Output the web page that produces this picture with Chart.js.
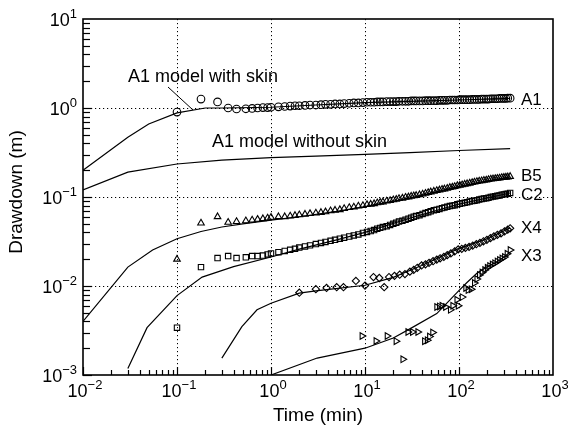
<!DOCTYPE html>
<html>
<head>
<meta charset="utf-8">
<script src="https://cdn.jsdelivr.net/npm/chart.js@4.4.1/dist/chart.umd.min.js"></script>
<style>
  html, body { margin: 0; padding: 0; background: #fff; }
  #wrap { width: 568px; height: 432px; position: relative; }
</style>
</head>
<body>
<div id="wrap"><canvas id="drawdownChart"></canvas></div>
<script>
const obsTimes = [0.1, 0.18, 0.27, 0.35, 0.43, 0.54, 0.63, 0.72, 0.82, 0.92, 1.0, 1.2, 1.4, 1.6, 1.8, 2.0, 2.3, 2.6, 3.0, 3.4, 3.8, 4.3, 4.8, 5.4, 6.0, 6.8, 7.6, 8.5, 9.5,
  10.5, 11.5, 12.5, 13.5, 14.5, 15.5, 17, 18.5, 20, 21.5, 23, 25, 27, 29, 31, 33, 35, 38, 41, 44, 47, 50, 54, 58, 62, 66, 70, 75, 80, 85, 90, 96,
  102, 108, 115, 122, 130, 138, 146, 155, 164, 174, 184, 195, 206, 218, 230, 243, 256, 270, 285, 300, 315, 330, 350];
const a1Obs = [0.9, 1.26, 1.17, 1.0, 0.975, 0.98, 0.99, 1.0, 1.01, 1.01, 1.02, 1.03, 1.04, 1.05, 1.06, 1.06, 1.07, 1.08, 1.08, 1.09, 1.10, 1.10, 1.11, 1.11, 1.12, 1.13, 1.14, 1.14, 1.15,
  1.16, 1.16, 1.16, 1.17, 1.17, 1.17, 1.18, 1.18, 1.18, 1.18, 1.19, 1.19, 1.19, 1.19, 1.20, 1.20, 1.20, 1.20, 1.20, 1.21, 1.21, 1.21, 1.21, 1.21, 1.22, 1.22, 1.22, 1.22, 1.23, 1.23, 1.23, 1.23,
  1.24, 1.24, 1.24, 1.24, 1.24, 1.25, 1.25, 1.25, 1.25, 1.26, 1.26, 1.26, 1.26, 1.27, 1.27, 1.27, 1.27, 1.28, 1.28, 1.28, 1.28, 1.29, 1.29];
const b5Obs = [0.020, 0.051, 0.060, 0.052, 0.053, 0.054, 0.055, 0.056, 0.057, 0.058, 0.059, 0.060, 0.060, 0.061, 0.062, 0.063, 0.064, 0.065, 0.066, 0.067, 0.068, 0.070, 0.071, 0.072, 0.074, 0.076, 0.077, 0.079, 0.080,
  0.082, 0.083, 0.084, 0.086, 0.087, 0.088, 0.090, 0.091, 0.093, 0.094, 0.096, 0.097, 0.099, 0.100, 0.102, 0.103, 0.104, 0.106, 0.108, 0.110, 0.112, 0.114, 0.116, 0.118, 0.120, 0.122, 0.123, 0.125, 0.128, 0.129, 0.131, 0.134,
  0.135, 0.137, 0.139, 0.141, 0.143, 0.145, 0.147, 0.149, 0.151, 0.152, 0.154, 0.155, 0.157, 0.159, 0.160, 0.161, 0.162, 0.163, 0.165, 0.166, 0.167, 0.168, 0.170];
const c2Obs = [0.0034, 0.0163, 0.0206, 0.0217, 0.0206, 0.0210, 0.0217, 0.0217, 0.0220, 0.0226, 0.0232, 0.0240, 0.0248, 0.0255, 0.0262, 0.0270, 0.0278, 0.0286, 0.0296, 0.0305, 0.0313, 0.0322, 0.0330, 0.0340, 0.0349, 0.036, 0.037, 0.038, 0.0395,
  0.0405, 0.0415, 0.0425, 0.044, 0.045, 0.046, 0.047, 0.0485, 0.050, 0.0515, 0.053, 0.054, 0.0555, 0.057, 0.0585, 0.060, 0.061, 0.0625, 0.0645, 0.066, 0.0675, 0.069, 0.071, 0.072, 0.0735, 0.075, 0.076, 0.0775, 0.079, 0.080, 0.081, 0.083,
  0.084, 0.085, 0.086, 0.0875, 0.089, 0.090, 0.091, 0.092, 0.094, 0.095, 0.096, 0.097, 0.098, 0.100, 0.101, 0.102, 0.103, 0.104, 0.106, 0.107, 0.108, 0.109, 0.111];

const x4Times = [2.0, 3.0, 3.9, 5.0, 5.9, 8.0, 10, 12.3, 14.2, 16, 18, 20.6, 23.4, 26.6, 30, 33, 36, 40, 44, 48, 53, 58, 63, 69, 75, 82, 90, 98, 107, 117, 128, 140, 153, 167, 182, 198, 216, 235, 256, 280, 305, 330, 350];
const x4Obs = [0.0084, 0.0092, 0.0095, 0.0097, 0.0097, 0.0114, 0.0101, 0.0126, 0.0123, 0.0097, 0.0126, 0.0130, 0.0134, 0.0136, 0.0145, 0.0152, 0.0160, 0.0170, 0.0175, 0.0182, 0.0190, 0.0198, 0.0205, 0.0213, 0.0222, 0.0232, 0.0245, 0.0258, 0.0262, 0.0268, 0.0275, 0.0285, 0.0295, 0.0305, 0.0318, 0.033, 0.0345, 0.036, 0.0375, 0.039, 0.041, 0.043, 0.0445];

const x3Times = [9.3, 13.1, 17.2, 21.4, 25.3, 28.6, 32, 36.5, 43, 46, 48.6, 52.5, 58, 62, 66, 72, 81, 86, 95, 98, 108, 118, 125, 135, 146, 155, 165, 176, 188, 200, 212, 226, 240, 255, 270, 287, 305, 325, 350];
const x3Obs = [0.00274, 0.00241, 0.00274, 0.00240, 0.00150, 0.00304, 0.00304, 0.00304, 0.00240, 0.00245, 0.00270, 0.00300, 0.0058, 0.0059, 0.0060, 0.0058, 0.0054, 0.0060, 0.0070, 0.0060, 0.0075, 0.0095, 0.0090, 0.0092, 0.0108, 0.0120, 0.0133, 0.0142, 0.0151, 0.0160, 0.0168, 0.0174, 0.0180, 0.0188, 0.0196, 0.0204, 0.0212, 0.0230, 0.0254];

// Model curves
const a1SkinTimes = [0.01, 0.03, 0.05, 0.1, 0.2, 0.3, 1, 3, 10, 30, 100, 350];
const a1SkinModel = [0.20, 0.47, 0.66, 0.88, 1.0, 1.0, 1.02, 1.08, 1.15, 1.19, 1.23, 1.28];
const a1NoSkinTimes = [0.01, 0.03, 0.1, 0.3, 1, 3, 10, 30, 100, 350];
const a1NoSkinModel = [0.12, 0.19, 0.235, 0.26, 0.277, 0.288, 0.302, 0.315, 0.333, 0.35];
const b5ModelTimes = [0.01, 0.03, 0.055, 0.1, 0.18, 0.3, 0.5, 1, 2, 5, 10, 30, 100, 350];
const b5Model = [0.0040, 0.0163, 0.0254, 0.034, 0.041, 0.046, 0.050, 0.055, 0.060, 0.069, 0.078, 0.097, 0.132, 0.168];
const c2ModelTimes = [0.03, 0.048, 0.1, 0.185, 0.4, 1, 2, 5, 10, 30, 100, 350];
const c2Model = [0.00118, 0.0034, 0.0078, 0.0126, 0.0165, 0.0212, 0.026, 0.033, 0.040, 0.058, 0.083, 0.111];
const x4ModelTimes = [0.3, 0.49, 0.71, 1, 2, 3, 10, 20, 40, 100, 200, 350];
const x4Model = [0.00155, 0.0035, 0.0054, 0.0064, 0.0083, 0.0088, 0.0102, 0.0125, 0.017, 0.0265, 0.034, 0.045];
const x3ModelTimes = [1.0, 3.1, 10, 20, 30, 58, 94, 120, 156, 200, 260, 350];
const x3Model = [0.0010, 0.00155, 0.0020, 0.0026, 0.0033, 0.0049, 0.0083, 0.0108, 0.014, 0.0165, 0.019, 0.024];

const xTickExps = [-2, -1, 0, 1, 2, 3];
const yTickExps = [-3, -2, -1, 0, 1];
const wellLabels = ['A1', 'B5', 'C2', 'X4', 'X3'];

const FONT = '"Liberation Sans", Arial, Helvetica, sans-serif';

function pairs(times, values) {
  return times.map((t, i) => ({ x: t, y: values[i] }));
}

function obsSet(label, times, values, style, rotation) {
  return {
    label: label,
    data: pairs(times, values),
    showLine: false,
    pointStyle: style,
    rotation: rotation || 0,
    pointRadius: style === 'rectRot' ? 3.6 : 3.8,
    pointBorderWidth: 1.1,
    borderColor: '#000',
    backgroundColor: 'rgba(0,0,0,0)'
  };
}

function modelSet(label, times, values) {
  return {
    label: label,
    data: pairs(times, values),
    showLine: true,
    pointRadius: 0,
    borderColor: '#000',
    borderWidth: 1.2,
    tension: 0,
    fill: false
  };
}

function line(ctx, x1, y1, x2, y2) {
  ctx.beginPath();
  ctx.moveTo(x1, y1);
  ctx.lineTo(x2, y2);
  ctx.stroke();
}

// dotted grid at the decades, under the data
const gridPlugin = {
  id: 'decadeGrid',
  beforeDatasetsDraw(chart) {
    const ctx = chart.ctx;
    const { left, right, top, bottom } = chart.chartArea;
    const xs = chart.scales.x, ys = chart.scales.y;
    ctx.save();
    ctx.strokeStyle = '#000';
    ctx.lineWidth = 1;
    ctx.setLineDash([1.2, 2.8]);
    xTickExps.forEach(e => {
      const px = Math.round(xs.getPixelForValue(Math.pow(10, e))) + 0.5;
      if (px > left + 2 && px < right - 2) line(ctx, px, top, px, bottom);
    });
    yTickExps.forEach(e => {
      const py = Math.round(ys.getPixelForValue(Math.pow(10, e))) + 0.5;
      if (py > top + 2 && py < bottom - 2) line(ctx, left, py, right, py);
    });
    ctx.restore();
  }
};

function powerLabel(ctx, exp, x, y, align) {
  const base = '10';
  const sup = exp < 0 ? '\u2212' + Math.abs(exp) : String(exp);
  ctx.font = '18px ' + FONT;
  const bw = ctx.measureText(base).width;
  ctx.font = '13px ' + FONT;
  const sw = ctx.measureText(sup).width;
  let x0 = align === 'right' ? x - bw - sw : x - (bw + sw) / 2;
  ctx.textAlign = 'left';
  ctx.textBaseline = 'alphabetic';
  ctx.font = '18px ' + FONT;
  ctx.fillText(base, x0, y);
  ctx.font = '13px ' + FONT;
  ctx.fillText(sup, x0 + bw, y - 8);
}

// frame, inward ticks, power-of-ten labels, titles and annotations
const axesPlugin = {
  id: 'logAxes',
  afterDraw(chart) {
    const ctx = chart.ctx;
    const { left, right, top, bottom } = chart.chartArea;
    const xs = chart.scales.x, ys = chart.scales.y;
    ctx.save();
    ctx.strokeStyle = '#000';
    ctx.fillStyle = '#000';
    ctx.lineWidth = 1.6;
    ctx.strokeRect(left, top, right - left, bottom - top);

    ctx.lineWidth = 1.2;
    for (let i = 0; i < xTickExps.length - 1; i++) {
      for (let m = 1; m <= 9; m++) {
        const px = Math.round(xs.getPixelForValue(m * Math.pow(10, xTickExps[i]))) + 0.5;
        const len = m === 1 ? 8 : 5;
        line(ctx, px, bottom, px, bottom - len);
      }
    }
    for (let i = 0; i < yTickExps.length - 1; i++) {
      for (let m = 1; m <= 9; m++) {
        const py = Math.round(ys.getPixelForValue(m * Math.pow(10, yTickExps[i]))) + 0.5;
        const len = m === 1 ? 9 : 7;
        line(ctx, left, py, left + len, py);
      }
    }

    xTickExps.forEach(e => {
      powerLabel(ctx, e, xs.getPixelForValue(Math.pow(10, e)) + 2, bottom + 22, 'center');
    });
    yTickExps.forEach(e => {
      powerLabel(ctx, e, left - 6, ys.getPixelForValue(Math.pow(10, e)) + 7, 'right');
    });

    // axis titles
    ctx.font = '19px ' + FONT;
    ctx.textAlign = 'center';
    ctx.textBaseline = 'middle';
    ctx.fillText('Time (min)', (left + right) / 2, 416);
    ctx.save();
    ctx.translate(17, 192);
    ctx.rotate(-Math.PI / 2);
    ctx.fillText('Drawdown (m)', 0, 0);
    ctx.restore();

    // curve annotations
    ctx.font = '18px ' + FONT;
    ctx.textAlign = 'left';
    ctx.fillText('A1 model with skin', 128, 77);
    ctx.fillText('A1 model without skin', 212, 142);
    ctx.lineWidth = 1;
    line(ctx, 168, 87, 193, 110);

    ctx.font = '17px ' + FONT;
    const labelY = [100, 176, 195, 228, 256];
    wellLabels.forEach((name, i) => {
      ctx.fillText(name, 521, labelY[i]);
    });
    ctx.restore();
  }
};

new Chart(document.getElementById('drawdownChart'), {
  type: 'scatter',
  data: {
    datasets: [
      modelSet('A1 model with skin', a1SkinTimes, a1SkinModel),
      modelSet('A1 model without skin', a1NoSkinTimes, a1NoSkinModel),
      modelSet('B5 model', b5ModelTimes, b5Model),
      modelSet('C2 model', c2ModelTimes, c2Model),
      modelSet('X4 model', x4ModelTimes, x4Model),
      modelSet('X3 model', x3ModelTimes, x3Model),
      obsSet('A1', obsTimes, a1Obs, 'circle'),
      obsSet('B5', obsTimes, b5Obs, 'triangle'),
      obsSet('C2', obsTimes, c2Obs, 'rect'),
      obsSet('X4', x4Times, x4Obs, 'rectRot'),
      obsSet('X3', x3Times, x3Obs, 'triangle', 90)
    ]
  },
  options: {
    responsive: true,
    maintainAspectRatio: false,
    animation: false,
    layout: { padding: { left: 83, right: 15, top: 19, bottom: 57 } },
    scales: {
      x: { type: 'logarithmic', min: 0.01, max: 1000, display: false },
      y: { type: 'logarithmic', min: 0.001, max: 10, display: false }
    },
    plugins: {
      legend: { display: false },
      tooltip: { enabled: false }
    }
  },
  plugins: [gridPlugin, axesPlugin]
});
</script>
</body>
</html>
